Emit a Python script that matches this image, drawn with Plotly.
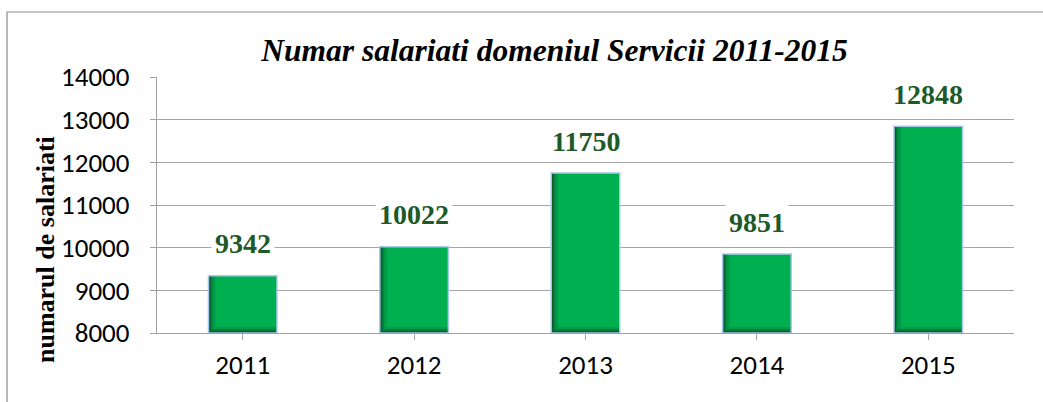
import plotly.graph_objects as go

years = ["2011", "2012", "2013", "2014", "2015"]
employees = [9342, 10022, 11750, 9851, 12848]
y_ticks = [8000, 9000, 10000, 11000, 12000, 13000, 14000]

title_text = "Numar salariati domeniul Servicii 2011-2015"
y_title = "numarul de salariati"

W, H = 1043, 402
L, R, T, B = 157, 29, 77, 69
plot_w = W - L - R
plot_h = H - T - B
y_min, y_max = 8000, 14000
px_x = 5.0 / plot_w           # category units per pixel
px_y = (y_max - y_min) / plot_h  # value units per pixel

bar_w = 0.4
xs = list(range(len(years)))

fig = go.Figure()

# gradient-like layers (dark left / bottom edge)
layers = [(0, 0, "#0a5a2c"), (2, 2, "#067d3b"), (4, 4, "#029a47"), (7, 6, "#00b050")]
for dl, db, col in layers:
    fig.add_trace(go.Bar(
        x=xs,
        y=[v - y_min - db * px_y for v in employees],
        base=[y_min + db * px_y] * len(employees),
        width=bar_w - dl * px_x,
        offset=-bar_w / 2 + dl * px_x,
        marker=dict(color=col, line=dict(width=0)),
        hoverinfo="skip",
        showlegend=False,
    ))

# outline
fig.add_trace(go.Bar(
    x=xs,
    y=[v - y_min for v in employees],
    base=[y_min] * len(employees),
    width=bar_w,
    offset=-bar_w / 2,
    marker=dict(color="rgba(0,0,0,0)", line=dict(color="#a8c8ea", width=1.5)),
    showlegend=False,
))

for x, v in zip(xs, employees):
    fig.add_annotation(
        x=x, y=v, xref="x", yref="y",
        text=f"<b>{v}</b>", showarrow=False,
        yanchor="middle", yshift=32,
        font=dict(family="Times New Roman, Liberation Serif, serif", size=28, color="#1d5a28"),
        bgcolor="white", borderpad=3,
    )

# y axis title
fig.add_annotation(
    x=(45 - L) / plot_w, y=(H - B - 250) / plot_h, xref="paper", yref="paper",
    text=f"<b>{y_title}</b>", textangle=-90, showarrow=False,
    xanchor="center", yanchor="middle",
    font=dict(family="Times New Roman, Liberation Serif, serif", size=26, color="black"),
)

# outer chart border
fig.add_shape(
    type="rect", xref="paper", yref="paper",
    x0=(7 - L) / plot_w, x1=(1060 - L) / plot_w,
    y0=(H - B - 420) / plot_h, y1=(H - B - 12) / plot_h,
    line=dict(color="#8c8c8c", width=1.2), fillcolor="rgba(0,0,0,0)", layer="below",
)

fig.update_layout(
    width=W, height=H,
    margin=dict(l=L, r=R, t=T, b=B, autoexpand=False),
    paper_bgcolor="white", plot_bgcolor="white",
    barmode="overlay",
    title=dict(
        text=f"<b><i>{title_text}</i></b>",
        x=554.5 / W, xanchor="center", xref="container",
        y=1 - 50 / H, yanchor="middle", yref="container",
        font=dict(family="Times New Roman, Liberation Serif, serif", size=31.5, color="black"),
    ),
    xaxis=dict(
        tickmode="array", tickvals=xs, ticktext=years,
        range=[-0.5, 4.5],
        showgrid=False, showline=True, linecolor="#a0a0a0", linewidth=1.2,
        ticks="outside", ticklen=6, tickcolor="#a0a0a0",
        tickfont=dict(family="Calibri, Carlito, Lato, sans-serif", size=27, color="black"),
        ticklabelstandoff=1,
        zeroline=False,
    ),
    yaxis=dict(
        range=[y_min, y_max], tickmode="array", tickvals=y_ticks,
        ticktext=[str(t) for t in y_ticks],
        showgrid=True, gridcolor="#a6a6a6", gridwidth=1.2,
        showline=True, linecolor="#a0a0a0", linewidth=1.2,
        ticks="outside", ticklen=6, tickcolor="#a0a0a0",
        tickfont=dict(family="Calibri, Carlito, Lato, sans-serif", size=27, color="black"),
        ticklabelstandoff=15,
        zeroline=False,
    ),
)

# x-axis tick marks at category boundaries
fig.update_xaxes(tickson="boundaries")

fig.write_html(
    "out.html",
    config={"displayModeBar": False},
    post_script="document.body.style.margin='0';document.body.style.overflow='hidden';",
)
